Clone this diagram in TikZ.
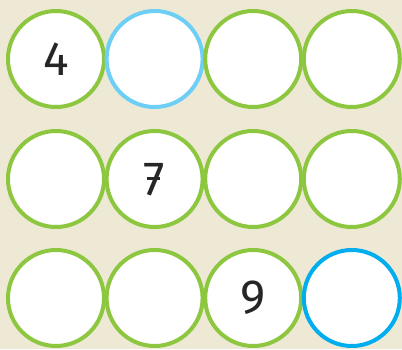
\documentclass[tikz,border=0pt]{standalone}
\usepackage{fontspec}
\setsansfont{Fira Sans}
\usetikzlibrary{positioning}
\definecolor{bgcream}{HTML}{EDE9D5}
\definecolor{ringgreen}{HTML}{8DC63F}
\definecolor{ringsky}{HTML}{6DCFF6}
\definecolor{ringblue}{HTML}{00AEEF}
\newcommand{\barseven}{\ooalign{7\cr\hidewidth\kern-2pt\raisebox{15pt}{\rule{13pt}{3pt}}\hidewidth\cr}}
\tikzset{ring/.style={circle,draw=ringgreen,fill=white,line width=4pt,minimum size=96pt,inner sep=0pt,font=\sffamily\fontsize{48}{48}\selectfont,text=black!85},
  node distance=-1.4pt}
\begin{document}
\begin{tikzpicture}[x=1pt,y=1pt]
\fill[bgcream](0,0)rectangle(402,349);\useasboundingbox(0,0)rectangle(402,349);
% row 1
\node[ring](a1)at(56,290){4};
\node[ring,draw=ringsky,right=of a1](a2){};
\node[ring,right=of a2](a3){};
\node[ring,right=of a3](a4){};
% row 2
\node[ring](b1)at(56,170){};
\node[ring,right=of b1](b2){\barseven};
\node[ring,right=of b2](b3){};
\node[ring,right=of b3](b4){};
% row 3
\node[ring](c1)at(56,51){};
\node[ring,right=of c1](c2){};
\node[ring,right=of c2](c3){9};
\node[ring,draw=ringblue,right=of c3](c4){};
\end{tikzpicture}
\end{document}
